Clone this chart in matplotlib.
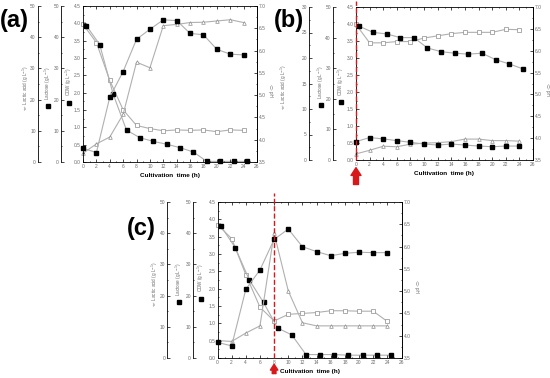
import matplotlib
matplotlib.use('Agg')
import matplotlib.pyplot as plt
from matplotlib.ticker import MultipleLocator

# Sampling times (h); lactose points are drawn half an hour later
hours = [0, 2, 4, 6, 8, 10, 12, 14, 16, 18, 20, 22, 24]
hours_late = [0.5, 2.5, 4.5, 6.5, 8.5, 10.5, 12.5, 14.5, 16.5, 18.5, 20.5, 22.5, 24.5]

# (a)
a_cdw = [0.40, 0.27, 1.87, 2.61, 3.54, 3.83, 4.10, 4.08, 3.71, 3.67, 3.25, 3.11, 3.09]
a_lactose = [43.7, 37.6, 21.8, 10.2, 7.8, 6.6, 5.7, 4.6, 3.2, 0.2, 0.2, 0.2, 0.2]
a_lactic = [2.8, 5.8, 8.0, 15.3, 32.0, 30.2, 43.7, 44.1, 44.7, 44.8, 45.2, 45.6, 44.7]
a_ph = [6.59, 6.18, 5.33, 4.67, 4.32, 4.25, 4.20, 4.22, 4.21, 4.22, 4.18, 4.22, 4.21]

# (b)
b_cdw = [0.54, 0.66, 0.62, 0.57, 0.52, 0.47, 0.44, 0.47, 0.44, 0.41, 0.39, 0.41, 0.41]
b_lactose = [43.7, 41.7, 41.2, 40.0, 40.0, 36.6, 35.4, 34.9, 34.6, 34.9, 32.8, 31.4, 29.8]
b_lactic = [1.2, 1.9, 2.7, 2.6, 3.1, 3.3, 3.4, 3.6, 4.1, 4.1, 3.8, 3.8, 3.7]
b_ph = [6.60, 6.18, 6.18, 6.21, 6.21, 6.29, 6.34, 6.39, 6.42, 6.42, 6.42, 6.49, 6.48]

# (c)
c_cdw = [0.45, 0.35, 1.98, 2.54, 3.42, 3.72, 3.21, 3.07, 2.95, 3.02, 3.05, 3.04, 3.04]
c_lactose = [42.2, 35.4, 25.0, 17.8, 9.6, 7.4, 1.1, 1.1, 1.1, 0.9, 0.9, 0.9, 0.9]
c_lactic = [5.6, 5.3, 8.0, 10.3, 40.0, 21.5, 11.3, 10.3, 10.3, 10.3, 10.3, 10.3, 10.3]
c_ph = [6.49, 6.18, 5.37, 4.64, 4.33, 4.48, 4.50, 4.52, 4.56, 4.56, 4.55, 4.55, 4.32]

LINE = '#b0b0b0'
OPEN = '#8c8c8c'
TXT = '#6a6a6a'
RED = '#d7191c'

plt.rcParams['font.family'] = ['Liberation Sans', 'DejaVu Sans']

fig = plt.figure(figsize=(5.5, 3.78), dpi=100)
W, H = 550.0, 378.0


def style_axis(a, which):
    a.tick_params(axis='y', which='both', direction='in', labelsize=3.5,
                  labelcolor=TXT, width=0.5, pad=1.5)
    a.tick_params(axis='y', which='major', length=2)
    a.tick_params(axis='y', which='minor', length=1)
    for s in a.spines.values():
        s.set_visible(False)
    a.spines[which].set_visible(True)
    a.spines[which].set_linewidth(0.6)


def panel(box, lactic_max, offs, lab_x, data, tag, tag_xy):
    left, top, right, bottom = box
    ax = fig.add_axes([left / W, 1 - bottom / H, (right - left) / W, (bottom - top) / H])
    axp = ax.twinx()
    axl = ax.twinx()
    axa = ax.twinx()
    cdw, lactose, lactic, ph = data

    # main CDW axis
    ax.set_xlim(0, 26)
    ax.set_ylim(0, 4.5)
    ax.xaxis.set_major_locator(MultipleLocator(2))
    ax.xaxis.set_minor_locator(MultipleLocator(1))
    ax.yaxis.set_major_locator(MultipleLocator(0.5))
    ax.yaxis.set_minor_locator(MultipleLocator(0.25))
    ax.yaxis.set_major_formatter('{x:.1f}')
    ax.tick_params(which='both', direction='in', top=True, right=False,
                   labelsize=3.5, labelcolor=TXT, width=0.5, pad=1.5)
    ax.tick_params(which='major', length=2)
    ax.tick_params(which='minor', length=1)
    for s in ax.spines.values():
        s.set_linewidth(0.6)
    ax.set_xlabel('Cultivation  time (h)', fontsize=4.6, fontweight='bold', labelpad=3)

    # pH axis on the right
    axp.set_ylim(3.5, 7.0)
    axp.yaxis.set_major_locator(MultipleLocator(0.5))
    axp.yaxis.set_minor_locator(MultipleLocator(0.25))
    axp.yaxis.set_major_formatter('{x:.1f}')
    style_axis(axp, 'right')

    # lactose and lactic acid axes, offset to the left
    for a, ymax, step, off in [(axl, 50, 10, offs[0]), (axa, lactic_max, 5 if lactic_max == 30 else 10, offs[1])]:
        a.set_ylim(0, ymax)
        a.yaxis.set_major_locator(MultipleLocator(step))
        a.yaxis.set_minor_locator(MultipleLocator(step / 2))
        a.yaxis.tick_left()
        style_axis(a, 'left')
        a.spines['left'].set_position(('axes', off))

    mk = dict(ms=2.6, lw=0.8, color=LINE, clip_on=False)
    axa.plot(hours, lactic, marker='^', mfc='white', mec=OPEN, mew=0.5, **mk)
    axp.plot(hours, ph, marker='s', mfc='white', mec=OPEN, mew=0.5, **mk)
    axl.plot(hours_late, lactose, marker='s', mfc='black', mec='black', **mk)
    ax.plot(hours, cdw, marker='s', mfc='black', mec='black', zorder=5, **mk)
    ax.set_zorder(axa.get_zorder() + 1)
    ax.patch.set_visible(False)

    # axis titles
    fs = 3.3
    ax.text(lab_x[0], 0.33, '-\u25b3- Lactic acid (g L$^{-1}$)', rotation=90, ha='center',
            va='bottom', fontsize=fs, color=TXT, transform=ax.transAxes)
    ax.text(lab_x[1], 0.40, 'Lactose (g L$^{-1}$)', rotation=90, ha='center',
            va='bottom', fontsize=fs, color=TXT, transform=ax.transAxes)
    ax.plot([lab_x[1]], [0.36], 's', color='black', ms=2.6, transform=ax.transAxes, clip_on=False)
    ax.text(lab_x[2], 0.42, 'CDW (g L$^{-1}$)', rotation=90, ha='center',
            va='bottom', fontsize=fs, color=TXT, transform=ax.transAxes)
    ax.plot([lab_x[2]], [0.38], 's', color='black', ms=2.6, transform=ax.transAxes, clip_on=False)
    ax.text(1.08, 0.46, '-\u25a1- pH', rotation=270, ha='center', va='center',
            fontsize=fs, color=TXT, transform=ax.transAxes)

    fig.text(tag_xy[0] / W, 1 - tag_xy[1] / H, tag, fontsize=17, fontweight='bold',
             ha='center', va='center')
    return ax


ax_a = panel((83, 6, 257, 162), 50, (-0.126, -0.26), (-0.33, -0.20, -0.08),
             (a_cdw, a_lactose, a_lactic, a_ph), '(a)', (14, 21))
ax_b = panel((356, 7, 533, 160), 30, (-0.13, -0.266), (-0.41, -0.20, -0.085),
             (b_cdw, b_lactose, b_lactic, b_ph), '(b)', (289, 20))
ax_c = panel((217.5, 202, 401.5, 358), 50, (-0.133, -0.274), (-0.34, -0.21, -0.09),
             (c_cdw, c_lactose, c_lactic, c_ph), '(c)', (141, 229))

# induction markers
ax_b.axvline(0, ymin=0, ymax=1.04, color=RED, ls='--', lw=1.0, clip_on=False, zorder=10)
ax_c.axvline(8, ymin=0, ymax=1.06, color=RED, ls='--', lw=1.0, clip_on=False, zorder=10)
ax_b.annotate('', xy=(0, -0.05), xytext=(0, -0.16), xycoords=('data', 'axes fraction'),
              arrowprops=dict(arrowstyle='simple,head_width=0.9,head_length=0.7,tail_width=0.45',
                              color=RED, mutation_scale=8, shrinkA=0, shrinkB=0))
ax_c.annotate('', xy=(8, -0.04), xytext=(8, -0.10), xycoords=('data', 'axes fraction'),
              arrowprops=dict(arrowstyle='simple,head_width=0.9,head_length=0.7,tail_width=0.45',
                              color=RED, mutation_scale=6, shrinkA=0, shrinkB=0))

fig.savefig('out.png', dpi=100)
